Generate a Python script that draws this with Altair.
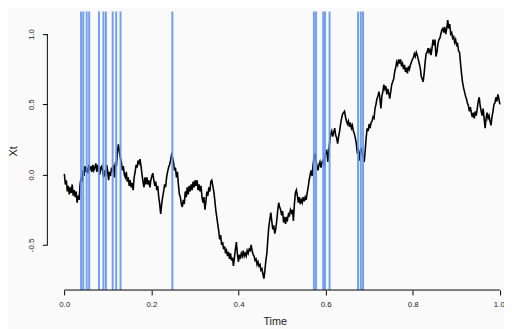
import altair as alt
import numpy as np
import pandas as pd

# Path values Xt (uniform time grid from 0 to 1)
XT = [
 0.005,-0.07,-0.04,-0.12,-0.08,-0.14,-0.09,-0.13,-0.07,-0.15,
 -0.11,-0.16,-0.12,-0.20,-0.15,-0.18,-0.07,-0.02,-0.05,0.03,
 -0.01,0.06,0.02,0.05,0.01,0.07,0.03,0.06,0.02,0.07,
 0.03,0.05,0.08,0.02,0.07,0.03,0.00,0.05,0.06,0.02,
 -0.02,0.03,-0.01,0.07,0.03,-0.04,0.02,-0.01,0.05,0.02,
 0.07,-0.02,0.09,0.06,0.17,0.215,0.16,0.12,0.09,0.03,
 0.06,0.00,-0.02,0.02,-0.05,-0.02,-0.08,-0.04,-0.09,-0.06,
 -0.11,-0.02,0.02,0.07,0.05,0.10,0.08,0.11,0.06,0.00,
 -0.05,-0.09,-0.02,-0.07,-0.02,-0.07,-0.04,-0.09,-0.04,-0.01,
 0.01,-0.04,-0.08,-0.05,-0.11,-0.08,-0.16,-0.21,-0.28,-0.21,
 -0.16,-0.12,-0.07,-0.09,-0.02,0.02,0.05,0.07,0.10,0.14,
 0.12,0.09,0.03,0.05,-0.02,0.02,-0.07,-0.14,-0.16,-0.21,
 -0.23,-0.18,-0.21,-0.12,-0.16,-0.09,-0.14,-0.08,-0.12,-0.07,
 -0.11,-0.05,-0.09,-0.04,-0.08,-0.04,-0.11,-0.07,-0.12,-0.08,
 -0.16,-0.20,-0.16,-0.25,-0.19,-0.12,-0.15,-0.09,-0.12,-0.05,
 -0.04,-0.08,-0.12,-0.18,-0.25,-0.30,-0.35,-0.40,-0.46,-0.43,
 -0.50,-0.48,-0.53,-0.51,-0.56,-0.54,-0.58,-0.55,-0.60,-0.56,
 -0.61,-0.59,-0.65,-0.59,-0.53,-0.48,-0.56,-0.62,-0.57,-0.60,
 -0.56,-0.58,-0.54,-0.58,-0.56,-0.58,-0.54,-0.56,-0.53,-0.54,
 -0.50,-0.54,-0.57,-0.58,-0.61,-0.60,-0.64,-0.62,-0.65,-0.64,
 -0.68,-0.67,-0.71,-0.74,-0.68,-0.61,-0.56,-0.46,-0.37,-0.32,
 -0.27,-0.33,-0.39,-0.36,-0.42,-0.39,-0.33,-0.26,-0.20,-0.23,
 -0.25,-0.29,-0.26,-0.34,-0.30,-0.35,-0.30,-0.32,-0.28,-0.29,
 -0.25,-0.27,-0.25,-0.33,-0.21,-0.13,-0.11,-0.15,-0.20,-0.16,
 -0.21,-0.18,-0.20,-0.16,-0.19,-0.16,-0.18,-0.13,-0.09,-0.04,
 0.00,0.03,-0.01,0.07,0.12,0.15,0.10,0.06,0.03,0.07,
 0.09,0.05,0.09,0.10,0.06,0.13,0.16,0.17,0.09,0.17,
 0.24,0.29,0.31,0.27,0.30,0.33,0.28,0.26,0.22,0.27,
 0.31,0.36,0.40,0.43,0.44,0.45,0.41,0.38,0.36,0.38,
 0.34,0.37,0.33,0.35,0.31,0.29,0.26,0.22,0.15,0.19,
 0.10,0.16,0.19,0.15,0.12,0.09,0.17,0.26,0.33,0.31,
 0.36,0.33,0.37,0.38,0.41,0.40,0.47,0.50,0.54,0.56,
 0.59,0.54,0.47,0.56,0.59,0.64,0.61,0.63,0.57,0.61,
 0.58,0.54,0.59,0.64,0.66,0.68,0.73,0.76,0.80,0.78,
 0.82,0.79,0.82,0.77,0.79,0.75,0.78,0.73,0.76,0.72,
 0.77,0.75,0.78,0.80,0.82,0.83,0.86,0.84,0.87,0.85,
 0.82,0.79,0.76,0.70,0.68,0.66,0.72,0.80,0.86,0.87,
 0.90,0.87,0.89,0.85,0.90,0.96,0.92,0.96,0.84,0.87,
 0.93,0.96,0.97,1.00,1.03,1.04,1.01,1.05,1.00,1.04,
 1.10,1.04,1.07,1.00,1.01,0.97,0.98,0.94,0.96,0.92,
 0.93,0.88,0.87,0.79,0.72,0.66,0.62,0.59,0.56,0.54,
 0.51,0.49,0.45,0.48,0.44,0.41,0.44,0.40,0.45,0.42,
 0.47,0.52,0.55,0.49,0.45,0.42,0.47,0.40,0.33,0.40,
 0.44,0.40,0.42,0.38,0.35,0.41,0.45,0.50,0.51,0.55,
 0.52,0.57,0.54,0.50,
]
TIME = np.linspace(0.0, 1.0, len(XT))

# Times of the vertical blue lines
EVENTS = [0.0384, 0.0434, 0.0513, 0.0570, 0.0795, 0.0897, 0.0954,
          0.1110, 0.1190, 0.1290, 0.2480,
          0.5730, 0.5780, 0.5944, 0.5986, 0.6090,
          0.6744, 0.6807, 0.6859]

X_TICKS = [0.0, 0.2, 0.4, 0.6, 0.8, 1.0]
Y_TICKS = [-0.5, 0.0, 0.5, 1.0]

X_DOMAIN = [-0.039, 1.005]
Y_DOMAIN = [-0.821, 1.160]

FONT = "Liberation Sans"

path_df = pd.DataFrame({"time": TIME, "xt": XT})
ev_df = pd.DataFrame({"time": EVENTS})
xaxis_df = pd.DataFrame({"x0": [X_TICKS[0]], "x1": [X_TICKS[-1]], "y": [Y_DOMAIN[0]]})
yaxis_df = pd.DataFrame({"x": [X_DOMAIN[0]], "y0": [Y_TICKS[0]], "y1": [Y_TICKS[-1]]})

xscale = alt.Scale(domain=X_DOMAIN, nice=False, zero=False)
yscale = alt.Scale(domain=Y_DOMAIN, nice=False, zero=False)

xaxis = alt.Axis(values=X_TICKS, format=".1f", domain=False, grid=False,
                 tickColor="black", tickSize=5, tickWidth=1,
                 labelFont=FONT, labelFontSize=8, labelColor="#222",
                 labelBaseline="alphabetic", labelPadding=12,
                 labelOverlap=False, labelBound=False, labelFlush=False,
                 labelAlign={"condition": {"test": "datum.value >= 1", "value": "right"},
                             "value": "center"},
                 labelOffset={"condition": {"test": "datum.value >= 1", "value": 4.5},
                              "value": 0},
                 title="Time", titleFont=FONT, titleFontSize=11,
                 titleFontWeight="normal", titleColor="#222",
                 titleBaseline="alphabetic", titleY=35)
yaxis = alt.Axis(values=Y_TICKS, domain=False, grid=False,
                 labelExpr="replace(format(datum.value, '.1f'), '\u2212', '-')",
                 tickColor="black", tickSize=5, tickWidth=1,
                 labelFont=FONT, labelFontSize=8, labelColor="#222",
                 labelAngle=270, labelAlign="center", labelBaseline="alphabetic",
                 labelPadding=9,
                 title="Xt", titleFont=FONT, titleFontSize=11,
                 titleFontWeight="normal", titleColor="#222",
                 titleBaseline="alphabetic", titleX=-31, titleY=141.5)

line = alt.Chart(path_df).mark_line(color="black", strokeWidth=1.6, strokeJoin="miter").encode(
    x=alt.X("time:Q", scale=xscale, axis=xaxis),
    y=alt.Y("xt:Q", scale=yscale, axis=yaxis),
)

events = alt.Chart(ev_df).mark_rule(color="#6495ED", strokeWidth=2, opacity=0.9).encode(
    x=alt.X("time:Q", scale=xscale)
)

xline = alt.Chart(xaxis_df).mark_rule(color="black", strokeWidth=1).encode(
    x="x0:Q", x2="x1:Q", y="y:Q"
)
yline = alt.Chart(yaxis_df).mark_rule(color="black", strokeWidth=1).encode(
    x="x:Q", y="y0:Q", y2="y1:Q"
)

chart = alt.layer(line, events, xline, yline).properties(
    width=462, height=283,
    autosize=alt.AutoSizeParams(type="none"),
    padding={"left": 40, "top": 1, "right": 2, "bottom": 37},
    background="#fafafa",
).configure_view(stroke=None)

chart.save("out.html", embed_options={"renderer": "svg", "actions": False})
